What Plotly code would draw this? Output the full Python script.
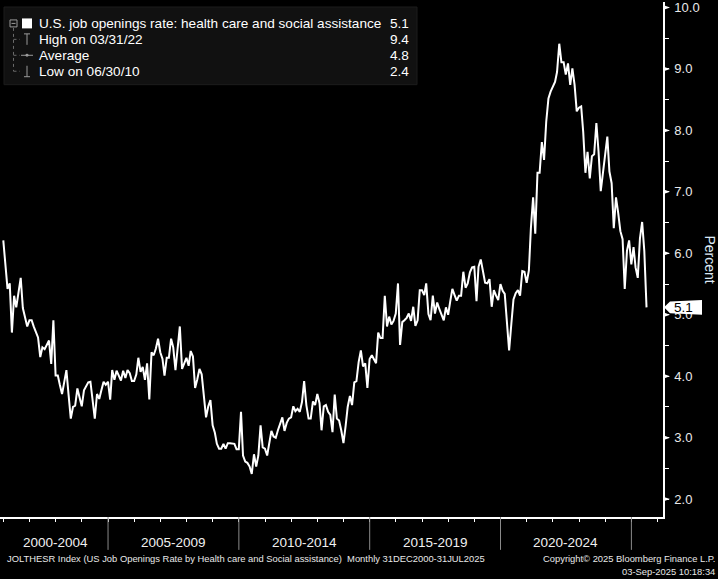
import pandas as pd
import plotly.graph_objects as go

# US job openings rate, health care and social assistance, monthly 31DEC2000-31JUL2025 (%)
rate = [
    6.21, 5.80, 5.42, 5.51, 4.71, 5.31, 5.12, 5.36, 5.60, 5.11,
    4.96, 4.81, 4.91, 4.91, 4.81, 4.72, 4.63, 4.31, 4.47, 4.44,
    4.50, 4.58, 4.20, 4.91, 4.01, 4.01, 3.86, 3.71, 3.90, 4.10,
    3.70, 3.31, 3.50, 3.52, 3.80, 3.65, 3.51, 3.77, 3.84, 3.90,
    3.91, 3.60, 3.31, 3.71, 3.63, 3.77, 3.91, 3.86, 3.91, 3.62,
    4.10, 3.94, 4.09, 4.01, 3.93, 4.09, 3.97, 4.10, 4.05, 3.92,
    3.92, 4.03, 4.30, 4.07, 4.15, 3.94, 4.21, 3.62, 4.39, 4.34,
    4.45, 4.61, 4.39, 4.28, 4.01, 4.30, 4.30, 4.61, 4.47, 4.10,
    4.45, 4.81, 4.12, 4.20, 4.30, 4.17, 4.41, 4.32, 3.81, 3.95,
    4.12, 4.03, 3.70, 3.33, 3.51, 3.61, 3.20, 3.08, 2.90, 2.82,
    2.82, 2.90, 2.82, 2.91, 2.91, 2.91, 2.90, 2.81, 2.81, 3.42,
    2.71, 2.61, 2.59, 2.53, 2.41, 2.73, 2.53, 2.71, 3.20, 2.84,
    2.82, 2.71, 2.93, 3.11, 3.02, 3.00, 3.12, 3.24, 3.33, 3.11,
    3.24, 3.31, 3.33, 3.51, 3.43, 3.47, 3.42, 3.58, 3.92, 3.53,
    3.31, 3.31, 3.59, 3.53, 3.71, 3.56, 3.12, 3.51, 3.53, 3.42,
    3.37, 3.09, 3.70, 3.31, 3.28, 3.12, 2.91, 3.20, 3.50, 3.68,
    3.53, 3.90, 3.92, 4.23, 4.42, 4.16, 4.21, 3.81, 4.28, 4.34,
    4.28, 4.21, 4.71, 4.62, 4.62, 5.31, 4.81, 4.97, 4.84, 4.90,
    5.02, 5.51, 4.51, 4.88, 4.91, 4.95, 5.02, 4.90, 5.13, 4.82,
    4.91, 5.40, 5.40, 5.32, 5.51, 5.01, 4.91, 5.31, 5.02, 5.20,
    5.09, 5.01, 4.91, 5.12, 5.00, 5.23, 5.42, 5.32, 5.23, 5.31,
    5.31, 5.70, 5.44, 5.51, 5.69, 5.77, 5.78, 5.22, 5.78, 5.90,
    5.74, 5.52, 5.51, 5.58, 5.13, 5.40, 5.31, 5.24, 5.50, 5.39,
    5.34, 4.90, 4.42, 4.85, 5.25, 5.35, 5.40, 5.31, 5.71, 5.70,
    5.52, 5.72, 6.41, 6.91, 6.32, 7.31, 7.31, 7.81, 7.52, 8.14,
    8.52, 8.63, 8.71, 8.79, 8.95, 9.41, 9.11, 9.11, 8.91, 9.09,
    8.74, 9.01, 8.74, 8.31, 8.37, 8.39, 7.98, 7.31, 7.65, 7.22,
    7.58, 7.61, 8.12, 7.66, 7.01, 7.33, 7.60, 7.90, 7.33, 7.14,
    6.41, 6.91, 6.66, 6.36, 6.23, 5.42, 6.04, 6.21, 5.82, 6.10,
    5.77, 5.60, 6.24, 6.51, 6.04, 5.12,
]
try:
    dates = pd.date_range("2000-12-31", periods=len(rate), freq="ME")
except ValueError:
    dates = pd.date_range("2000-12-31", periods=len(rate), freq="M")

y_ticks = [2, 3, 4, 5, 6, 7, 8, 9, 10]
period_labels = ["2000-2004", "2005-2009", "2010-2014", "2015-2019", "2020-2024"]
period_centers = ["2003-01-01", "2007-07-01", "2012-07-01", "2017-07-01", "2022-07-01"]
period_breaks = ["2005-01-01", "2010-01-01", "2015-01-01", "2020-01-01", "2025-01-01"]

legend_rows = [
    ("U.S. job openings rate: health care and social assistance", "5.1"),
    ("High on 03/31/22", "9.4"),
    ("Average", "4.8"),
    ("Low on 06/30/10", "2.4"),
]
footer_left = "JOLTHESR Index (US Job Openings Rate by Health care and Social assistance)  Monthly 31DEC2000-31JUL2025"
footer_right = ["Copyright\u00a9 2025 Bloomberg Finance L.P.", "03-Sep-2025 10:18:34"]

Y_LO, Y_HI = 1.709, 10.089
PW, PH = 663.0, 517.0
FONT = "Liberation Sans"


def xp(px):
    return px / PW


def yp(py):
    return 1 - py / PH


def ypv(v):
    return (v - Y_LO) / (Y_HI - Y_LO)


fig = go.Figure(go.Scatter(
    x=dates, y=rate, mode="lines",
    line=dict(color="white", width=2),
    hoverinfo="x+y", showlegend=False,
))

shapes = []
ann = []

# y-axis tick arrows
for v in y_ticks:
    c = ypv(v)
    shapes.append(dict(type="path", xref="paper", yref="paper",
                       path=f"M 1,{c - 2.5 / PH} L {1 + 7 / PW},{c} L 1,{c + 2.5 / PH} Z",
                       fillcolor="white", line=dict(width=0)))

# period separators under the time axis
for d in period_breaks:
    shapes.append(dict(type="line", xref="x", yref="paper", x0=d, x1=d,
                       y0=yp(517), y1=yp(550), line=dict(color="#8a8a8a", width=1)))
for lab, d in zip(period_labels, period_centers):
    ann.append(dict(text=lab, x=d, xref="x", y=yp(543), yref="paper", showarrow=False,
                    xanchor="center", yanchor="middle",
                    font=dict(family=FONT, size=13.5, color="#f0f0f0")))

# last value tag
last = rate[-1]
c = ypv(last)
shapes.append(dict(type="path", xref="paper", yref="paper",
                   path=f"M {xp(664)},{c} L {xp(670)},{c + 6 / PH} L {xp(702)},{c + 7.5 / PH} "
                        f"L {xp(702)},{c - 7.5 / PH} L {xp(670)},{c - 6 / PH} Z",
                   fillcolor="white", line=dict(width=0)))
ann.append(dict(text=f"{last:.1f}", x=xp(672), xref="paper", y=c, yref="paper",
                showarrow=False, xanchor="left", yanchor="middle",
                font=dict(family=FONT, size=13.5, color="black")))

ann.append(dict(text="Percent", x=xp(710), xref="paper", y=0.5, yref="paper",
                showarrow=False, textangle=90, xanchor="center", yanchor="middle",
                font=dict(family=FONT, size=14, color="#dde8f5")))

# legend panel
shapes.append(dict(type="rect", xref="paper", yref="paper",
                   x0=xp(4), x1=xp(417), y0=yp(5), y1=yp(83),
                   fillcolor="#111111", line=dict(color="#1c1c1c", width=1)))
row_y = [21.5, 37.5, 53.5, 69.5]
gray = "#9a9a9a"
# collapse box and tree lines
shapes.append(dict(type="rect", xref="paper", yref="paper", x0=xp(10), x1=xp(17),
                   y0=yp(18), y1=yp(25), line=dict(color=gray, width=1)))
shapes.append(dict(type="line", xref="paper", yref="paper", x0=xp(11.5), x1=xp(15.5),
                   y0=yp(21.5), y1=yp(21.5), line=dict(color=gray, width=1)))
shapes.append(dict(type="line", xref="paper", yref="paper", x0=xp(13.5), x1=xp(13.5),
                   y0=yp(26), y1=yp(69.5), line=dict(color="#6a6a6a", width=1, dash="dot")))
for ry in row_y[1:]:
    shapes.append(dict(type="line", xref="paper", yref="paper", x0=xp(13.5), x1=xp(20),
                       y0=yp(ry), y1=yp(ry), line=dict(color="#6a6a6a", width=1, dash="dot")))
shapes.append(dict(type="rect", xref="paper", yref="paper", x0=xp(22), x1=xp(32),
                   y0=yp(16.5), y1=yp(26.5), fillcolor="white", line=dict(width=0)))
# high icon
shapes.append(dict(type="line", xref="paper", yref="paper", x0=xp(27), x1=xp(27),
                   y0=yp(32), y1=yp(43), line=dict(color=gray, width=1)))
shapes.append(dict(type="line", xref="paper", yref="paper", x0=xp(24), x1=xp(30),
                   y0=yp(32), y1=yp(32), line=dict(color=gray, width=1)))
# average icon
shapes.append(dict(type="line", xref="paper", yref="paper", x0=xp(21), x1=xp(33),
                   y0=yp(53.5), y1=yp(53.5), line=dict(color=gray, width=1)))
shapes.append(dict(type="circle", xref="paper", yref="paper", x0=xp(25.5), x1=xp(28.5),
                   y0=yp(52), y1=yp(55), fillcolor=gray, line=dict(width=0)))
# low icon
shapes.append(dict(type="line", xref="paper", yref="paper", x0=xp(27), x1=xp(27),
                   y0=yp(64), y1=yp(75), line=dict(color=gray, width=1)))
shapes.append(dict(type="line", xref="paper", yref="paper", x0=xp(24), x1=xp(30),
                   y0=yp(75), y1=yp(75), line=dict(color=gray, width=1)))

for (lab, val), ry in zip(legend_rows, row_y):
    ann.append(dict(text=lab, x=xp(37), xref="paper", y=yp(ry), yref="paper",
                    showarrow=False, xanchor="left", yanchor="middle",
                    font=dict(family=FONT, size=13.6, color="white")))
    ann.append(dict(text=val, x=xp(411), xref="paper", y=yp(ry), yref="paper",
                    showarrow=False, xanchor="right", yanchor="middle",
                    font=dict(family=FONT, size=13.6, color="white")))

# footer
ann.append(dict(text=footer_left, x=xp(5), xref="paper", y=yp(559), yref="paper",
                showarrow=False, xanchor="left", yanchor="middle",
                font=dict(family=FONT, size=9.4, color="#e8e8e8")))
for txt, py in zip(footer_right, [559, 572]):
    ann.append(dict(text=txt, x=xp(717), xref="paper", y=yp(py), yref="paper",
                    showarrow=False, xanchor="right", yanchor="middle",
                    font=dict(family=FONT, size=9.4, color="#e8e8e8")))

fig.update_layout(
    width=718, height=579,
    margin=dict(l=0, r=55, t=0, b=62),
    paper_bgcolor="black", plot_bgcolor="black",
    showlegend=False,
    shapes=shapes, annotations=ann,
    xaxis=dict(
        type="date", range=["2000-11-15", "2026-03-18"],
        showgrid=False, zeroline=False,
        showline=True, linecolor="white", linewidth=1.5,
        ticks="outside", tickcolor="white", ticklen=3, tickwidth=1,
        tick0="2001-01-01", dtick="M12", showticklabels=False,
    ),
    yaxis=dict(
        side="right", range=[Y_LO, Y_HI],
        showgrid=False, zeroline=False,
        showline=True, linecolor="white", linewidth=1.5,
        tickvals=y_ticks, tickformat=".1f", ticklabeloverflow="allow",
        ticks="outside", ticklen=7, tickcolor="rgba(0,0,0,0)",
        tickfont=dict(family=FONT, size=13, color="#eaeaea"),
        minor=dict(dtick=0.5, ticks="outside", ticklen=4, tickcolor="white", tickwidth=1),
    ),
)

# page body margin off, so the 718x579 figure fills the window
fig.write_html("out.html", config={"displayModeBar": False},
               post_script="document.body.style.margin='0px';")
